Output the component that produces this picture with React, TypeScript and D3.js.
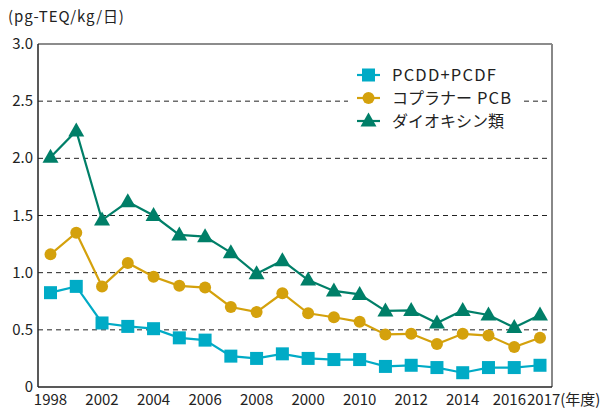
import React from "react";
import * as d3 from "d3";

const years = d3.range(1998, 2018);
const pcdd = [0.825, 0.88, 0.56, 0.53, 0.51, 0.43, 0.41, 0.27, 0.25, 0.29, 0.25, 0.24, 0.24, 0.18, 0.19, 0.17, 0.125, 0.17, 0.17, 0.19];
const pcb = [1.16, 1.35, 0.88, 1.085, 0.965, 0.885, 0.87, 0.70, 0.655, 0.82, 0.645, 0.61, 0.57, 0.46, 0.465, 0.376, 0.465, 0.45, 0.35, 0.43];
const dioxin = [2.01, 2.24, 1.46, 1.62, 1.50, 1.33, 1.315, 1.175, 0.99, 1.105, 0.935, 0.84, 0.81, 0.665, 0.67, 0.56, 0.67, 0.63, 0.52, 0.63];
const yTicks = [0, 0.5, 1.0, 1.5, 2.0, 2.5, 3.0];
const yTickLabels = ["0", "0.5", "1.0", "1.5", "2.0", "2.5", "3.0"];
const xTickIdx = [0, 2, 4, 6, 8, 10, 12, 14, 16, 18];
const xTickLabels = ["1998", "2002", "2004", "2006", "2008", "2000", "2010", "2012", "2014", "2016"];
const lastLabel = "2017(年度)";
const unitLabel = "(pg-TEQ/kg/日)";
const seriesJa = ["", "コプラナー", "ダイオキシン類"];
const seriesLatin = ["PCDD+PCDF", " PCB", ""];
const colors = ["#00abc6", "#d4a10c", "#007f68"];

const FONT = "'Noto Sans CJK JP', 'Noto Sans', sans-serif";

export default function App() {
  const W = 611, H = 408;
  const left = 38, right = 552, top = 44, bottom = 387;
  const x = d3.scalePoint<number>().domain(years).range([50.5, 540]);
  const y = d3.scaleLinear().domain([0, 3]).range([bottom, top]);
  const line = d3.line<number>().x((_, i) => x(years[i])!).y((d) => y(d));
  const data = [pcdd, pcb, dioxin];

  const marker = (k: number, cx: number, cy: number, key: string) => {
    const c = colors[k];
    if (k === 0) return <rect key={key} x={cx - 6.5} y={cy - 6.5} width={13} height={13} fill={c} />;
    if (k === 1) return <circle key={key} cx={cx} cy={cy} r={6} fill={c} />;
    return <path key={key} d={`M${cx},${cy - 8.5} L${cx + 8},${cy + 5.5} L${cx - 8},${cy + 5.5} Z`} fill={c} />;
  };

  return (
    <svg width={W} height={H} style={{ position: "absolute", left: 0, top: 0, fontFamily: FONT }}>
      <rect width={W} height={H} fill="#fff" />
      {yTicks.slice(1, -1).map((t) => (
        <line key={t} x1={left} x2={right} y1={y(t)} y2={y(t)} stroke="#222" strokeWidth={1} strokeDasharray="5,4" />
      ))}
      <line x1={left} x2={right} y1={top} y2={top} stroke="#666" strokeWidth={1.5} />
      <line x1={right} x2={right} y1={top} y2={bottom} stroke="#888" strokeWidth={2} />
      <line x1={left} x2={left} y1={top} y2={bottom} stroke="#222" strokeWidth={1.5} />
      <line x1={left} x2={right} y1={bottom} y2={bottom} stroke="#222" strokeWidth={1.5} />
      {yTicks.map((t, i) => (
        <text key={t} x={33} y={y(t) + 5} textAnchor="end" fontSize={15} fill="#222">{yTickLabels[i]}</text>
      ))}
      {xTickIdx.map((idx, i) => {
        const last = i === xTickIdx.length - 1;
        return (
          <text key={idx} x={last ? 526 : x(years[idx])} y={405} textAnchor={last ? "end" : "middle"} fontSize={15} fill="#222">{xTickLabels[i]}</text>
        );
      })}
      <text x={527} y={405} fontSize={15} fill="#222">{lastLabel}</text>
      <text x={8} y={22} fontSize={15} letterSpacing={0.9} fill="#222">{unitLabel}</text>
      {data.map((s, k) => (
        <g key={k}>
          <path d={line(s)!} fill="none" stroke={colors[k]} strokeWidth={2.2} />
          {s.map((v, i) => marker(k, x(years[i])!, y(v), `${k}-${i}`))}
        </g>
      ))}
      <rect x={348} y={62} width={172} height={70} fill="#fff" />
      {seriesJa.map((n, k) => {
        const ly = 75 + k * 23;
        return (
          <g key={k}>
            <line x1={357} x2={380} y1={ly} y2={ly} stroke={colors[k]} strokeWidth={2.2} />
            {marker(k, 368.5, ly, `l${k}`)}
            <text x={392} y={ly + 5.5} fontSize={16} fill="#222">
              {n}
              {seriesLatin[k] && (
                <tspan fontSize={16.5} letterSpacing={1.2}>{seriesLatin[k]}</tspan>
              )}
            </text>
          </g>
        );
      })}
    </svg>
  );
}
